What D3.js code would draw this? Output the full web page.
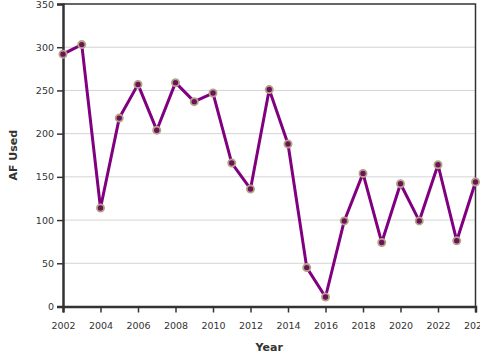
<!DOCTYPE html>
<html><head><meta charset="utf-8">
<script src="https://cdn.jsdelivr.net/npm/d3@7"></script>
<style>
body{margin:0;background:#fff;}
svg{display:block;font-family:"DejaVu Sans",sans-serif;}
</style></head>
<body><svg id="c" width="480" height="360"></svg>
<script>
const years = [2002,2003,2004,2005,2006,2007,2008,2009,2010,2011,2012,2013,2014,2015,2016,2017,2018,2019,2020,2021,2022,2023,2024];
const afUsed = [292,303,114,218,257,204,259,237,247,166,136,251,188,45,11,99,154,74,142,99,164,76,144];
const xTicks = [2002,2004,2006,2008,2010,2012,2014,2016,2018,2020,2022,2024];
const yTicks = [0,50,100,150,200,250,300,350];

const svg = d3.select("#c");
const m = {l:63, r:475.5, t:4, b:306.5};
const x = d3.scaleLinear().domain([2002,2024]).range([m.l,m.r]);
const y = d3.scaleLinear().domain([0,350]).range([m.b,m.t]);

// gridlines
svg.append("g").selectAll("line").data(yTicks.slice(1,-1)).join("line")
  .attr("x1",m.l).attr("x2",m.r).attr("y1",d=>y(d)).attr("y2",d=>y(d))
  .attr("stroke","#d4d4d4").attr("stroke-width",1);

// frame top/right
svg.append("path").attr("d",`M${m.l},${m.t}H${m.r}V${m.b}`)
  .attr("fill","none").attr("stroke","#333").attr("stroke-width",1.5);

const xa = svg.append("g").attr("transform",`translate(0,${m.b})`)
  .call(d3.axisBottom(x).tickValues(xTicks).tickFormat(d3.format("d")).tickSizeOuter(0).tickSize(6));
const ya = svg.append("g").attr("transform",`translate(${m.l},0)`)
  .call(d3.axisLeft(y).tickValues(yTicks).tickSizeOuter(0).tickSize(6));
[xa,ya].forEach(a=>{
  a.select(".domain").attr("stroke","#333").attr("stroke-width",2.5);
  a.selectAll(".tick line").attr("stroke","#333").attr("stroke-width",1.5);
  a.selectAll("text").attr("fill","#333").attr("font-size",9.5).attr("font-family","DejaVu Sans, sans-serif");
});
xa.selectAll("text").attr("dy","1.45em");
ya.selectAll("text").attr("dy","0.32em");

const line = d3.line().x((d,i)=>x(years[i])).y(d=>y(d));
svg.append("path").datum(afUsed).attr("d",line)
  .attr("fill","none").attr("stroke","#800080").attr("stroke-width",3).attr("stroke-linejoin","round");

svg.append("g").selectAll("circle").data(afUsed).join("circle")
  .attr("cx",(d,i)=>x(years[i])).attr("cy",d=>y(d)).attr("r",3.6)
  .attr("fill","#6b1259").attr("stroke","#b5a387").attr("stroke-width",1.8);

svg.append("text").attr("x",(m.l+m.r)/2).attr("y",351).attr("text-anchor","middle")
  .attr("font-size",11).attr("font-weight","bold").attr("fill","#333").text("Year");
svg.append("text").attr("transform",`translate(16.5,${(m.t+m.b)/2}) rotate(-90)`).attr("text-anchor","middle")
  .attr("font-size",11).attr("font-weight","bold").attr("fill","#333").text("AF Used");
</script></body></html>
